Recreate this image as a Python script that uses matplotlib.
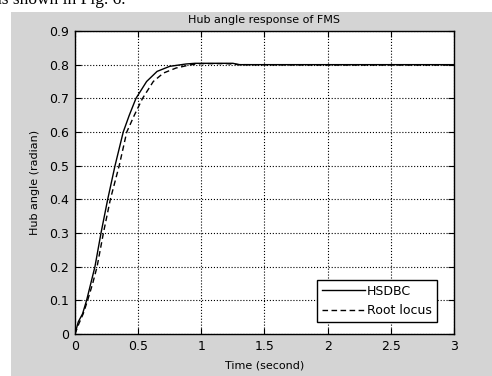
import matplotlib
matplotlib.use('Agg')
import matplotlib.pyplot as plt
import matplotlib.patches as patches

# HSDBC response
t_hsdbc = [0, 0.026, 0.06, 0.092, 0.125, 0.158, 0.206, 0.259, 0.317, 0.382, 0.43, 0.483,
           0.567, 0.65, 0.75, 0.88, 0.95, 1.1, 1.25, 1.3, 2.0, 3.0]
y_hsdbc = [0, 0.036, 0.06, 0.1, 0.15, 0.2, 0.3, 0.4, 0.5, 0.6, 0.65, 0.7,
           0.75, 0.78, 0.795, 0.802, 0.804, 0.804, 0.804, 0.8, 0.8, 0.8]

# Root locus response
t_root = [0, 0.03, 0.065, 0.1, 0.14, 0.175, 0.225, 0.28, 0.35, 0.41, 0.47, 0.535,
          0.62, 0.7, 0.8, 0.92, 1.0, 1.2, 1.3, 2.0, 3.0]
y_root = [0, 0.03, 0.06, 0.1, 0.15, 0.2, 0.3, 0.4, 0.5, 0.6, 0.65, 0.7,
          0.75, 0.775, 0.79, 0.8, 0.803, 0.803, 0.8, 0.799, 0.799]

xticks = [0, 0.5, 1, 1.5, 2, 2.5, 3]
yticks = [0, 0.1, 0.2, 0.3, 0.4, 0.5, 0.6, 0.7, 0.8, 0.9]

plt.rcParams['font.family'] = ['DejaVu Sans']

fig = plt.figure(figsize=(4.92, 3.76), dpi=100)
fig.patch.set_facecolor('white')
# gray figure area, slightly cropped page around it
fig.patches.append(patches.Rectangle((11 / 492, 0), 1, 1 - 12 / 376, transform=fig.transFigure,
                                     facecolor='#d4d4d4', edgecolor='none', zorder=-1))
# bottom of a line of page text, cut off by the crop
fig.text(-0.012, 1.0, 'as shown in Fig. 6.', fontsize=12.5, ha='left', va='center', color='black',
         family='Liberation Serif')

ax = fig.add_axes([0.1524, 0.1117, 0.7703, 0.8059])
ax.plot(t_hsdbc, y_hsdbc, color='black', linewidth=1.0, label='HSDBC')
ax.plot(t_root, y_root, color='black', linewidth=1.0, linestyle=(0, (4, 2.5)), label='Root locus')

ax.set_xlim(0, 3)
ax.set_ylim(0, 0.9)
ax.set_xticks(xticks)
ax.set_xticklabels(['0', '0.5', '1', '1.5', '2', '2.5', '3'])
ax.set_yticks(yticks)
ax.set_yticklabels(['0', '0.1', '0.2', '0.3', '0.4', '0.5', '0.6', '0.7', '0.8', '0.9'])
ax.tick_params(direction='in', top=True, right=True, labelsize=9, length=4, pad=4)
ax.grid(True, color='black', linestyle=':', linewidth=0.8)
for s in ax.spines.values():
    s.set_linewidth(1.0)

ax.set_title('Hub angle response of FMS', fontsize=8, pad=6)
ax.set_xlabel('Time (second)', fontsize=8, labelpad=6)
ax.set_ylabel('Hub angle (radian)', fontsize=8, labelpad=7)

leg = ax.legend(loc='lower right', bbox_to_anchor=(0.955, 0.04), fontsize=9, fancybox=False,
                framealpha=1, edgecolor='black', handlelength=3.4, borderpad=0.4,
                labelspacing=0.5, handletextpad=0.2, borderaxespad=0)
leg.get_frame().set_linewidth(1.0)

fig.savefig('out.png', dpi=100, facecolor=fig.get_facecolor())
